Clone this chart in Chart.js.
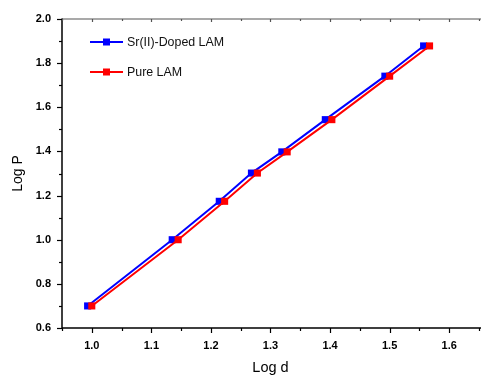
<!DOCTYPE html>
<html>
<head>
<meta charset="utf-8">
<script src="https://cdn.jsdelivr.net/npm/chart.js@4"></script>
<style>
html,body{margin:0;padding:0;background:#fff;overflow:hidden;width:481px;height:376px;}
#wrap{width:490px;height:376px;position:relative;}
</style>
</head>
<body>
<div id="wrap"><canvas id="c" width="490" height="376"></canvas></div>
<script>
// Data
const seriesLabels = ['Sr(II)-Doped LAM', 'Pure LAM'];
const logdDoped = [0.993, 1.135, 1.214, 1.268, 1.319, 1.392, 1.492, 1.557];
const logPDoped = [0.700, 1.000, 1.174, 1.302, 1.398, 1.544, 1.741, 1.878];
const logdPure  = [1.000, 1.145, 1.223, 1.278, 1.328, 1.403, 1.500, 1.567];
const logPPure  = [0.700, 1.000, 1.174, 1.302, 1.398, 1.544, 1.741, 1.878];
const xTitle = 'Log d';
const yTitle = 'Log P';

const FONT = '"Liberation Sans", Arial, sans-serif';
const toPts = (xs, ys) => xs.map((x, i) => ({x: x, y: ys[i]}));

const axisPlugin = {
  id: 'originAxes',
  afterDatasetsDraw(chart) {
    const ctx = chart.ctx, a = chart.chartArea;
    const xs = chart.scales.x, ys = chart.scales.y;
    ctx.save();
    ctx.strokeStyle = '#555';
    ctx.lineWidth = 1.2;
    ctx.beginPath(); ctx.moveTo(a.left, a.top); ctx.lineTo(a.right + 5, a.top); ctx.stroke();
    ctx.strokeStyle = '#000';
    ctx.lineWidth = 1.5;
    ctx.beginPath(); ctx.moveTo(a.left, a.top - 0.5); ctx.lineTo(a.left, a.bottom); ctx.lineTo(a.right + 5, a.bottom); ctx.stroke();
    ctx.lineWidth = 1.2;
    xs.ticks.forEach(t => {
      const px = Math.round(xs.getPixelForValue(t.value)) + 0.5;
      const major = Math.round(t.value * 100) % 10 === 0;
      ctx.strokeStyle = '#000';
      ctx.beginPath(); ctx.moveTo(px, a.bottom); ctx.lineTo(px, a.bottom + (major ? 5 : 3)); ctx.stroke();
      ctx.strokeStyle = '#555';
      ctx.beginPath(); ctx.moveTo(px, a.top); ctx.lineTo(px, a.top + (major ? 3 : 2)); ctx.stroke();
    });
    ctx.strokeStyle = '#000';
    ys.ticks.forEach(t => {
      const py = Math.round(ys.getPixelForValue(t.value)) + 0.5;
      const major = Math.round(t.value * 10) % 2 === 0;
      ctx.beginPath(); ctx.moveTo(a.left, py); ctx.lineTo(a.left - (major ? 5 : 3), py); ctx.stroke();
    });
    ctx.restore();
  },
  afterDraw(chart) {
    const ctx = chart.ctx;
    const rows = [42, 72];
    ctx.save();
    chart.data.datasets.forEach((ds, i) => {
      const y = rows[i];
      ctx.strokeStyle = ds.borderColor;
      ctx.lineWidth = 2;
      ctx.beginPath(); ctx.moveTo(90, y); ctx.lineTo(123, y); ctx.stroke();
      ctx.fillStyle = ds.backgroundColor;
      ctx.fillRect(103, y - 3.5, 7, 7);
      ctx.fillStyle = '#111';
      ctx.font = '12.4px ' + FONT;
      ctx.textBaseline = 'middle';
      ctx.textAlign = 'left';
      ctx.fillText(ds.label, 127, y + 0.5);
    });
    ctx.restore();
  }
};

new Chart(document.getElementById('c'), {
  type: 'scatter',
  data: {
    datasets: [
      {label: seriesLabels[0], data: toPts(logdDoped, logPDoped), showLine: true,
       borderColor: '#0000ff', backgroundColor: '#0000ff', borderWidth: 2,
       pointStyle: 'rect', pointRadius: 5, pointBorderWidth: 0, order: 2},
      {label: seriesLabels[1], data: toPts(logdPure, logPPure), showLine: true,
       borderColor: '#ff0000', backgroundColor: '#ff0000', borderWidth: 2,
       pointStyle: 'rect', pointRadius: 5, pointBorderWidth: 0, order: 1}
    ]
  },
  options: {
    responsive: false,
    animation: false,
    layout: {padding: {left: 0, top: 19, right: 4, bottom: 0}},
    plugins: {legend: {display: false}, tooltip: {enabled: false}},
    scales: {
      x: {
        type: 'linear', min: 0.95, max: 1.65,
        border: {display: false},
        grid: {display: false, drawTicks: false, tickLength: 0},
        afterFit(s) { s.height = 48; },
        ticks: {
          stepSize: 0.05, autoSkip: false, maxRotation: 0, padding: 11,
          color: '#000', font: {family: FONT, size: 11, weight: 'bold'},
          callback: v => (Math.round(v * 100) % 10 === 0 ? v.toFixed(1) : '')
        },
        title: {display: true, text: xTitle, color: '#000', font: {family: FONT, size: 14.5},
                padding: {top: 0, bottom: -1}}
      },
      y: {
        type: 'linear', min: 0.6, max: 2.0,
        border: {display: false},
        grid: {display: false, drawTicks: false, tickLength: 0},
        afterFit(s) { s.width = 62; },
        ticks: {
          stepSize: 0.1, autoSkip: false, padding: 11,
          color: '#000', font: {family: FONT, size: 11, weight: 'bold'},
          callback: v => (Math.round(v * 10) % 2 === 0 ? v.toFixed(1) : '')
        },
        title: {display: true, text: yTitle, color: '#000', font: {family: FONT, size: 14},
                padding: {top: 10, bottom: 0}}
      }
    }
  },
  plugins: [axisPlugin]
});
</script>
</body>
</html>
